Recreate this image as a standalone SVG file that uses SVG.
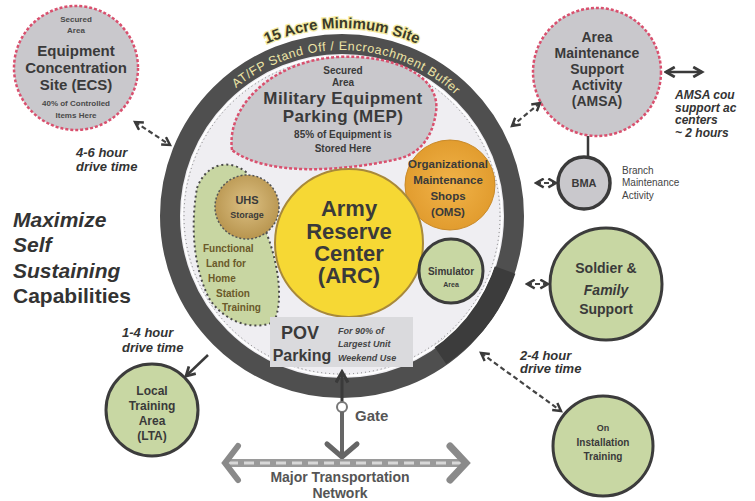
<svg xmlns="http://www.w3.org/2000/svg" width="755" height="501" viewBox="0 0 755 501">
<style>
.b{font-family:"Liberation Sans",Arial,sans-serif;font-weight:bold;fill:#3a3a3a;text-anchor:middle}
.bi{font-family:"Liberation Sans",Arial,sans-serif;font-weight:bold;font-style:italic;fill:#333}
.sm{font-family:"Liberation Sans",Arial,sans-serif;font-weight:bold;fill:#4a4a4a;text-anchor:middle;font-size:8px}
.pink{stroke:#d9506e;stroke-width:2.5;stroke-dasharray:3 2}
.grey{fill:#c9c8cc}
.green{fill:#c8d7a3;stroke:#3c3c3c;stroke-width:3}
.dash{fill:none;stroke:#444;stroke-width:2.2;stroke-dasharray:5 3}
.solid{fill:none;stroke:#3a3a3a;stroke-width:2.5}
.band{font-family:"Liberation Sans",Arial,sans-serif;font-size:12.5px;fill:#ede4a6;letter-spacing:0.6px}
</style>
<defs>
<marker id="ah" viewBox="0 0 10 10" refX="8" refY="5" markerWidth="5" markerHeight="5" orient="auto-start-reverse">
<path d="M1,1 L8,5 L1,9" fill="none" stroke="#3a3a3a" stroke-width="2.2"/>
</marker>
<path id="arcOuter" d="M154,216 A188,188 0 0 1 530,216"/>
<path id="arcBand" d="M176,216 A166,166 0 0 1 508,216"/>
<radialGradient id="uhsG" cx="0.5" cy="0.45" r="0.55">
<stop offset="0" stop-color="#dcc083"/><stop offset="1" stop-color="#b8954f"/>
</radialGradient>
<radialGradient id="omsG" cx="0.5" cy="0.5" r="0.55">
<stop offset="0" stop-color="#f1b349"/><stop offset="1" stop-color="#e09a2c"/>
</radialGradient>
</defs>
<rect width="755" height="501" fill="#ffffff"/>

<g id="site">
<circle cx="342" cy="216" r="172" fill="#efeef2" stroke="#4f4f4f" stroke-width="20"/>
<path d="M440,355 A172,172 0 0 0 505,270" fill="none" stroke="#3c3c3c" stroke-width="22"/>
<circle cx="342" cy="216" r="160" fill="none" stroke="#fff" stroke-width="1.5"/>
<circle cx="342" cy="216" r="158" fill="none" stroke="#777" stroke-width="1" stroke-dasharray="1 3"/>
<text font-family="Liberation Sans,Arial,sans-serif" font-weight="bold" font-size="15" fill="#3a3a2a" stroke="#f3e9a0" stroke-width="2.5" paint-order="stroke" text-anchor="middle"><textPath href="#arcOuter" startOffset="50%">15 Acre Minimum Site</textPath></text>
<text class="band" text-anchor="middle"><textPath href="#arcBand" startOffset="51%">AT/FP Stand Off / Encroachment Buffer</textPath></text>
</g>

<g id="mep">
<path d="M232,150 C226,104 276,60 338,57 C398,54 441,78 436,112 C432,140 418,154 398,159 C340,172 266,176 232,150 Z" class="grey pink"/>
<text class="b" x="343" y="74" font-size="10">Secured</text>
<text class="b" x="343" y="86" font-size="10">Area</text>
<text class="b" x="343" y="104" font-size="17" letter-spacing="0.4">Military Equipment</text>
<text class="b" x="343" y="122" font-size="17" letter-spacing="0.4">Parking (MEP)</text>
<text class="b" x="343" y="138" font-size="10">85% of Equipment is</text>
<text class="b" x="343" y="152" font-size="10">Stored Here</text>
</g>

<g id="training-land">
<path d="M197,188 C206,164 228,158 246,172 L266,232 C278,262 284,300 274,322 C250,332 224,320 210,300 C194,270 190,228 197,188 Z" fill="#c8d6a2" stroke="#4a4a4a" stroke-width="2" stroke-dasharray="2 3"/>
<g font-family="Liberation Sans,Arial,sans-serif" font-weight="bold" font-size="10" fill="#6b5a2a">
<text x="203" y="252">Functional</text>
<text x="206" y="267">Land for</text>
<text x="208" y="282">Home</text>
<text x="216" y="297">Station</text>
<text x="222" y="311">Training</text>
</g>
</g>

<g id="uhs">
<circle cx="247" cy="207" r="32" fill="url(#uhsG)" stroke="#555" stroke-width="1.5" stroke-dasharray="2 2"/>
<text class="b" x="247" y="204" font-size="11">UHS</text>
<text class="b" x="247" y="218" font-size="9">Storage</text>
</g>

<g id="oms">
<circle cx="450" cy="185" r="45" fill="url(#omsG)" stroke="#c98a2a" stroke-width="1"/>
<text class="b" x="448" y="168" font-size="11.5">Organizational</text>
<text class="b" x="448" y="184" font-size="11.5">Maintenance</text>
<text class="b" x="448" y="200" font-size="11.5">Shops</text>
<text class="b" x="448" y="216" font-size="11.5">(OMS)</text>
</g>

<g id="arc">
<circle cx="349" cy="243" r="74" fill="#f6d834" stroke="#a8893a" stroke-width="2"/>
<text class="b" x="349" y="216" font-size="22">Army</text>
<text class="b" x="349" y="239" font-size="22">Reserve</text>
<text class="b" x="349" y="261" font-size="22">Center</text>
<text class="b" x="349" y="283" font-size="22">(ARC)</text>
</g>

<g id="simulator">
<circle cx="451" cy="271" r="32" class="green"/>
<text class="b" x="451" y="275" font-size="10">Simulator</text>
<text class="b" x="451" y="287" font-size="7">Area</text>
</g>

<g id="pov">
<rect x="270" y="317" width="143" height="50" fill="#dadadd"/>
<text class="b" x="300" y="339" font-size="18" font-weight="normal" fill="#444">POV</text>
<text class="b" x="302" y="361" font-size="16" font-weight="normal" fill="#444">Parking</text>
<g font-family="Liberation Sans,Arial,sans-serif" font-weight="bold" font-style="italic" font-size="9" fill="#444">
<text x="338" y="334">For 90% of</text>
<text x="338" y="347">Largest Unit</text>
<text x="338" y="361">Weekend Use</text>
</g>
</g>

<g id="ecs">
<circle cx="76" cy="68" r="62" class="grey pink"/>
<text class="sm" x="76" y="22">Secured</text>
<text class="sm" x="76" y="33">Area</text>
<text class="b" x="76" y="56" font-size="15">Equipment</text>
<text class="b" x="76" y="73" font-size="15">Concentration</text>
<text class="b" x="76" y="90" font-size="15">Site (ECS)</text>
<text class="sm" x="76" y="106">40% of Controlled</text>
<text class="sm" x="76" y="118">Items Here</text>
</g>

<g id="amsa">
<circle cx="597" cy="72" r="64" class="grey pink"/>
<text class="b" x="597" y="42" font-size="14">Area</text>
<text class="b" x="597" y="58" font-size="14">Maintenance</text>
<text class="b" x="597" y="74" font-size="14">Support</text>
<text class="b" x="597" y="90" font-size="14">Activity</text>
<text class="b" x="597" y="106" font-size="14">(AMSA)</text>
</g>

<g id="amsa-note">
<g class="bi" font-size="12">
<text x="675" y="99">AMSA cou</text>
<text x="675" y="112">support ac</text>
<text x="675" y="124">centers</text>
<text x="675" y="137">~ 2 hours</text>
</g>
</g>

<g id="bma">
<circle cx="584" cy="183" r="26" fill="#c9c8cc" stroke="#3a3a3a" stroke-width="3.5"/>
<text class="b" x="584" y="187" font-size="11">BMA</text>
<g font-family="Liberation Sans,Arial,sans-serif" font-size="10" fill="#444">
<text x="622" y="174">Branch</text>
<text x="622" y="186">Maintenance</text>
<text x="622" y="199">Activity</text>
</g>
</g>

<g id="soldier-family">
<circle cx="606" cy="284" r="56" class="green"/>
<text class="b" x="606" y="273" font-size="14">Soldier &amp;</text>
<text class="b" x="606" y="295" font-size="14" font-style="italic">Family</text>
<text class="b" x="606" y="314" font-size="14">Support</text>
</g>

<g id="on-installation">
<circle cx="603" cy="446" r="50" class="green"/>
<text class="b" x="603" y="431" font-size="9" fill="#666">On</text>
<text class="b" x="603" y="446" font-size="10" fill="#555">Installation</text>
<text class="b" x="603" y="460" font-size="10" fill="#555">Training</text>
</g>

<g id="lta">
<circle cx="152" cy="410" r="46" class="green"/>
<text class="b" x="152" y="395" font-size="12">Local</text>
<text class="b" x="152" y="410" font-size="12">Training</text>
<text class="b" x="152" y="425" font-size="12">Area</text>
<text class="b" x="152" y="440" font-size="12">(LTA)</text>
</g>

<g id="labels">
<g class="bi" font-size="21" fill="#3a3a3a">
<text x="13" y="227">Maximize</text>
<text x="13" y="252">Self</text>
<text x="13" y="278">Sustaining</text>
<text x="13" y="303" font-style="normal">Capabilities</text>
</g>
<g class="bi" font-size="13">
<text x="76" y="157">4-6 hour</text>
<text x="76" y="171">drive time</text>
<text x="122" y="337">1-4 hour</text>
<text x="122" y="352">drive time</text>
<text x="520" y="360">2-4 hour</text>
<text x="520" y="373">drive time</text>
</g>
<text x="355" y="421" font-family="Liberation Sans,Arial,sans-serif" font-weight="bold" font-size="15" fill="#555">Gate</text>
<text x="340" y="482" font-family="Liberation Sans,Arial,sans-serif" font-weight="bold" font-size="14" fill="#555" text-anchor="middle">Major Transportation</text>
<text x="340" y="498" font-family="Liberation Sans,Arial,sans-serif" font-weight="bold" font-size="14" fill="#555" text-anchor="middle">Network</text>
</g>

<g id="connectors">
<line x1="135" y1="122" x2="170" y2="145" class="dash" marker-start="url(#ah)" marker-end="url(#ah)"/>
<line x1="540" y1="103" x2="512" y2="126" class="dash" marker-start="url(#ah)" marker-end="url(#ah)"/>
<line x1="666" y1="72" x2="702" y2="72" class="solid" marker-start="url(#ah)" marker-end="url(#ah)"/>
<line x1="588" y1="136" x2="588" y2="157" class="solid"/>
<line x1="536" y1="183" x2="556" y2="183" class="dash" stroke-dasharray="3 2" marker-start="url(#ah)" marker-end="url(#ah)"/>
<line x1="527" y1="284" x2="548" y2="284" class="dash" stroke-dasharray="3 2" marker-start="url(#ah)" marker-end="url(#ah)"/>
<line x1="481" y1="353" x2="561" y2="411" class="dash" marker-start="url(#ah)" marker-end="url(#ah)"/>
<line x1="208" y1="355" x2="186" y2="376" class="solid" marker-end="url(#ah)"/>
<line x1="342" y1="402" x2="342" y2="372" stroke="#3a3a3a" stroke-width="3" marker-end="url(#ah)"/>
<circle cx="342" cy="407" r="5" fill="#fff" stroke="#777" stroke-width="2"/>
<line x1="342" y1="412" x2="342" y2="458" stroke="#666" stroke-width="4"/>
<polyline points="327,444 342,457 357,444" fill="none" stroke="#666" stroke-width="5" stroke-linecap="round"/>
<line x1="228" y1="463" x2="464" y2="463" stroke="#9a9a9a" stroke-width="8"/>
<line x1="228" y1="463" x2="464" y2="463" stroke="#d8d8d8" stroke-width="3" stroke-dasharray="10 6"/>
<polyline points="238,446 225,463 238,480" fill="none" stroke="#8a8a8a" stroke-width="6" stroke-linecap="round"/>
<polyline points="450,446 466,463 450,480" fill="none" stroke="#8a8a8a" stroke-width="7" stroke-linecap="round"/>
</g>
</svg>
